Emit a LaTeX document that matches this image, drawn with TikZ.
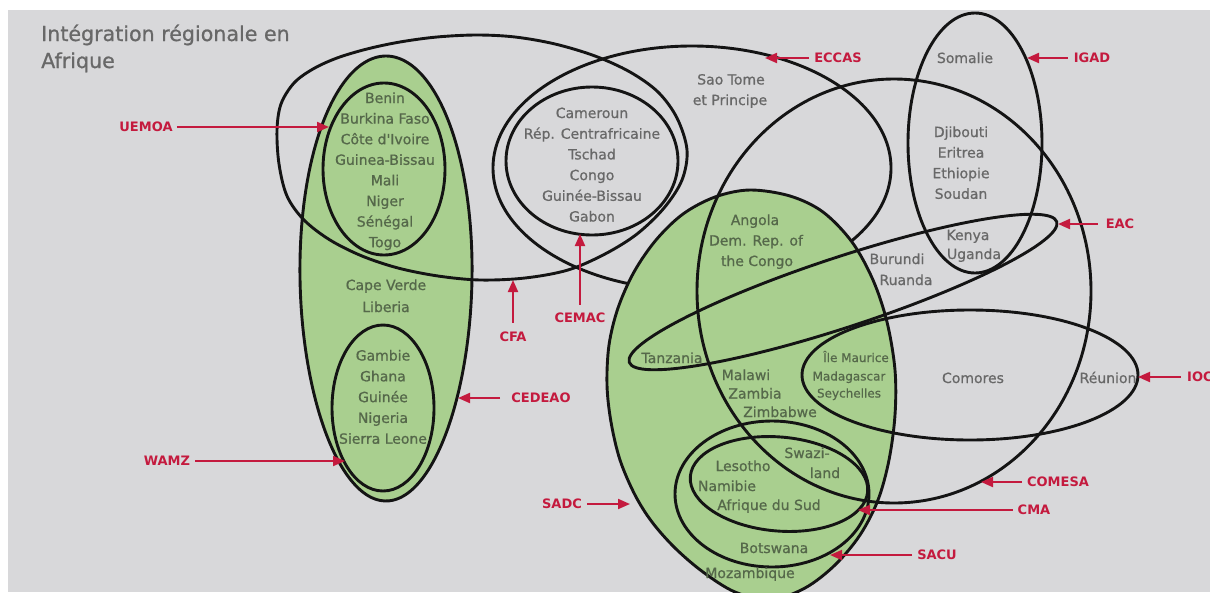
\documentclass[tikz,border=0pt]{standalone}
\usepackage{fontspec}
\setmainfont{DejaVu Sans}
\newfontfamily\cfont[FakeBold=0.8]{DejaVu Sans}
\usetikzlibrary{arrows.meta}
\definecolor{bggray}{HTML}{D8D8DA}
\definecolor{fillgreen}{HTML}{A9CF8F}
\definecolor{labred}{HTML}{C41A3E}
\definecolor{graytext}{HTML}{686868}
\definecolor{greentext}{HTML}{55684A}
\tikzset{
  ring/.style={draw=black!92, line width=2.9pt},
  greenring/.style={ring, fill=fillgreen},
  ctext/.style={text=graytext, inner sep=0pt, anchor=base, font=\cfont\fontsize{14pt}{16pt}\selectfont},
  gtext/.style={ctext, text=greentext},
  stext/.style={gtext, font=\cfont\fontsize{12pt}{14pt}\selectfont},
  lab/.style={text=labred, inner sep=0pt, font=\fontsize{13pt}{15pt}\selectfont\bfseries},
  redarrow/.style={draw=labred, line width=2pt, -{Triangle[length=12pt,width=10pt]}},
  titletext/.style={text=graytext, inner sep=0pt, anchor=base west, font=\cfont\fontsize{20.6pt}{24pt}\selectfont},
}
\begin{document}
\begin{tikzpicture}[x=1pt,y=-1pt]
\useasboundingbox (0,0) rectangle (1210,592);
\fill[white] (0,0) rectangle (1210,592);
\fill[bggray] (8,10) rectangle (1210,592);
\clip (0,0) rectangle (1210,592);

% CEDEAO (green)
\draw[greenring] plot[domain=0:360, samples=120, smooth] ({386+86*(1-0.04*sin(\x))*cos(\x)}, {278.5+222.5*sin(\x)}) -- cycle;
% ECCAS (partly under SADC)
\draw[ring] (692,168) ellipse [x radius=199pt, y radius=122pt];
% SADC (green)
\draw[greenring] plot[smooth cycle, tension=0.55] coordinates {(750,190) (790,196) (823,212) (852,242) (873,280) (887,322) (895,370) (895,415) (889,460) (878,500) (860,535) (835,565) (805,588) (770,600) (735,592) (703,572) (675,548) (652,522) (635,495) (620,460) (611,422) (607,385) (609,345) (618,308) (634,272) (656,240) (683,214) (715,197)};
% CFA
\draw[ring] plot[smooth cycle, tension=0.55] coordinates {(277,130) (281,104) (294,83) (313,69) (337,58) (367,49) (400,42) (437,37) (477,35) (515,37) (555,44) (595,56) (630,72) (658,92) (677,118) (687,150) (682,180) (664,208) (637,234) (605,254) (568,270) (525,278) (480,280) (438,276) (398,268) (362,256) (330,240) (304,220) (287,196) (279,164)};
% other groupings
\draw[ring] (384,169) ellipse [x radius=61pt, y radius=86pt];   % UEMOA
\draw[ring] (383,408) ellipse [x radius=51pt, y radius=83pt];   % WAMZ
\draw[ring] (592,161) ellipse [x radius=86pt, y radius=74pt];   % CEMAC
\draw[ring] (894,291) ellipse [x radius=197pt, y radius=212pt]; % COMESA
\draw[ring] (975,143) ellipse [x radius=67pt, y radius=130pt];  % IGAD
\draw[ring, rotate around={18.2:(843,292)}] (843,292) ellipse [x radius=225pt, y radius=35pt]; % EAC
\draw[ring] (970,375) ellipse [x radius=168pt, y radius=65pt];  % IOC
\draw[ring] (772,494) ellipse [x radius=97pt, y radius=73pt];   % SACU
\draw[ring, rotate around={-5:(779,484)}] (779,484) ellipse [x radius=89pt, y radius=47pt]; % CMA

% title
\node[titletext] (title1) at (41,41) {Intégration régionale en};
\node[titletext] (title2) at (41,68) {Afrique};

% country names
\foreach \t [count=\i] in {Benin,Burkina Faso,Côte d'Ivoire,Guinea-Bissau,Mali,Niger,Sénégal,Togo}
  \node[gtext] (uemoac\i) at (385,{103+20.6*(\i-1)}) {\t};
\node[gtext] (capeverde) at (386,290) {Cape Verde};
\node[gtext] (liberia) at (386,312) {Liberia};
\foreach \t [count=\i] in {Gambie,Ghana,Guinée,Nigeria,Sierra Leone}
  \node[gtext] (wamzc\i) at (383,{360.5+20.8*(\i-1)}) {\t};
\foreach \t [count=\i] in {Cameroun,Rép. Centrafricaine,Tschad,Congo,Guinée-Bissau,Gabon}
  \node[ctext] (cemacc\i) at (592,{118+20.7*(\i-1)}) {\t};
\node[ctext] (saotome) at (731,84.5) {Sao Tome};
\node[ctext] (principe) at (730,105) {et Principe};
\node[ctext] (somalie) at (965,63) {Somalie};
\foreach \t [count=\i] in {Djibouti,Eritrea,Ethiopie,Soudan}
  \node[ctext] (igadc\i) at (961,{137+20.6*(\i-1)}) {\t};
\node[ctext] (kenya) at (968,240) {Kenya};
\node[ctext] (uganda) at (974,259) {Uganda};
\node[ctext] (burundi) at (897,264) {Burundi};
\node[ctext] (ruanda) at (906,285) {Ruanda};
\node[gtext] (angola) at (755,225) {Angola};
\node[gtext] (demrep) at (756,245.5) {Dem. Rep. of};
\node[gtext] (thecongo) at (757,266) {the Congo};
\node[gtext] (tanzania) at (672,363) {Tanzania};
\node[gtext] (malawi) at (746,380) {Malawi};
\node[gtext] (zambia) at (755,398.5) {Zambia};
\node[gtext] (zimbabwe) at (780,417) {Zimbabwe};
\node[stext] (maurice) at (856,362) {Île Maurice};
\node[stext] (madagascar) at (849,380.5) {Madagascar};
\node[stext] (seychelles) at (849,397.5) {Seychelles};
\node[ctext] (comores) at (973,383) {Comores};
\node[ctext] (reunion) at (1108,383) {Réunion};
\node[gtext] (swazi) at (807,458) {Swazi-};
\node[gtext] (land) at (825,478) {land};
\node[gtext] (lesotho) at (743,471) {Lesotho};
\node[gtext] (namibie) at (727,491) {Namibie};
\node[gtext] (afriquesud) at (769,510) {Afrique du Sud};
\node[gtext] (botswana) at (774,553) {Botswana};
\node[gtext] (mozambique) at (750,578) {Mozambique};

% group labels and arrows
\node[lab] (uemoa) at (146,127) {UEMOA};
\coordinate (uemoatip) at (329,127);
\draw[redarrow, shorten <=4pt] (uemoa.east) -- (uemoatip);

\node[lab] (wamz) at (167,461) {WAMZ};
\coordinate (wamztip) at (345,461);
\draw[redarrow, shorten <=5pt] (wamz.east) -- (wamztip);

\node[lab] (cedeao) at (541,398) {CEDEAO};
\coordinate (cedeaotip) at (458,398);
\draw[redarrow, shorten <=11pt] (cedeao.west) -- (cedeaotip);

\node[lab] (cfa) at (513,337) {CFA};
\coordinate (cfatip) at (513,280);
\draw[redarrow, shorten <=9pt] (cfa.north) -- (cfatip);

\node[lab] (cemac) at (580,318) {CEMAC};
\coordinate (cemactip) at (580,234);
\draw[redarrow, shorten <=8pt] (cemac.north) -- (cemactip);

\node[lab] (sadc) at (562,504) {SADC};
\coordinate (sadctip) at (630,504);
\draw[redarrow, shorten <=5pt] (sadc.east) -- (sadctip);

\node[lab] (eccas) at (838,58) {ECCAS};
\coordinate (eccastip) at (765,58);
\draw[redarrow, shorten <=5pt] (eccas.west) -- (eccastip);

\node[lab] (igad) at (1092,58) {IGAD};
\coordinate (igadtip) at (1027,58);
\draw[redarrow, shorten <=6pt] (igad.west) -- (igadtip);

\node[lab] (eac) at (1120,224) {EAC};
\coordinate (eactip) at (1058,224);
\draw[redarrow, shorten <=8pt] (eac.west) -- (eactip);

\node[lab, anchor=west] (ioc) at (1187,377) {IOC};
\coordinate (ioctip) at (1138,377);
\draw[redarrow, shorten <=6pt] (ioc.west) -- (ioctip);

\node[lab] (comesa) at (1058,482) {COMESA};
\coordinate (comesatip) at (981,482);
\draw[redarrow, shorten <=5pt] (comesa.west) -- (comesatip);

\node[lab] (cma) at (1034,510) {CMA};
\coordinate (cmatip) at (858,510);
\draw[redarrow, shorten <=5pt] (cma.west) -- (cmatip);

\node[lab] (sacu) at (937,555) {SACU};
\coordinate (sacutip) at (830,555);
\draw[redarrow, shorten <=5pt] (sacu.west) -- (sacutip);
\end{tikzpicture}
\end{document}
